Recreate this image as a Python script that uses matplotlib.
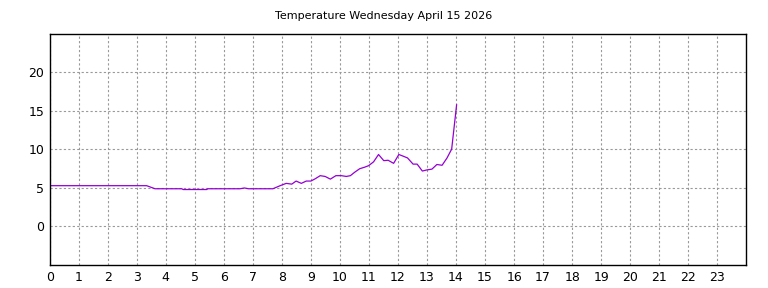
import matplotlib
matplotlib.use("Agg")
import matplotlib.pyplot as plt

# hour of day vs temperature
hours = [0.0, 3.34, 3.63, 4.55, 4.6, 5.41, 5.45, 6.56, 6.71, 6.85, 7.69,
         7.94, 8.15, 8.34, 8.49, 8.67, 8.84, 9.0, 9.15, 9.32, 9.49, 9.67,
         9.86, 10.05, 10.22, 10.36, 10.51, 10.68, 10.85, 10.99, 11.16, 11.33,
         11.51, 11.66, 11.85, 12.03, 12.2, 12.33, 12.52, 12.66, 12.84, 13.0,
         13.17, 13.34, 13.52, 13.69, 13.85, 14.02]
temps = [5.3, 5.3, 4.9, 4.9, 4.8, 4.8, 4.9, 4.9, 5.0, 4.9, 4.9,
         5.3, 5.6, 5.5, 5.9, 5.6, 5.9, 5.9, 6.2, 6.6, 6.5, 6.15,
         6.6, 6.6, 6.5, 6.6, 7.05, 7.5, 7.7, 7.9, 8.4, 9.35,
         8.55, 8.6, 8.2, 9.35, 9.1, 8.9, 8.1, 8.1, 7.2, 7.35,
         7.45, 8.05, 7.95, 8.9, 10.05, 15.8]

x_ticks = list(range(0, 24))
y_ticks = [0, 5, 10, 15, 20]
title = "Temperature Wednesday April 15 2026"


def plot_temperature():
    fig = plt.figure(figsize=(7.68, 2.88), dpi=100)
    ax = fig.add_axes([0.0647, 0.0799, 0.907, 0.8021])

    ax.plot(hours, temps, color="#9400d3", linewidth=0.9)

    ax.set_xlim(0, 24)
    ax.set_ylim(-5, 25)
    ax.set_xticks(x_ticks)
    ax.set_yticks(y_ticks)
    ax.tick_params(length=0, labelsize=9, pad=4)

    ax.grid(True, linestyle=(0, (2, 2)), linewidth=0.8, color="#999999")
    for spine in ax.spines.values():
        spine.set_linewidth(1.0)

    fig.text(0.5, 0.945, title, ha="center", va="center", fontsize=8)

    fig.savefig("out.png", dpi=100)


if __name__ == "__main__":
    plot_temperature()
